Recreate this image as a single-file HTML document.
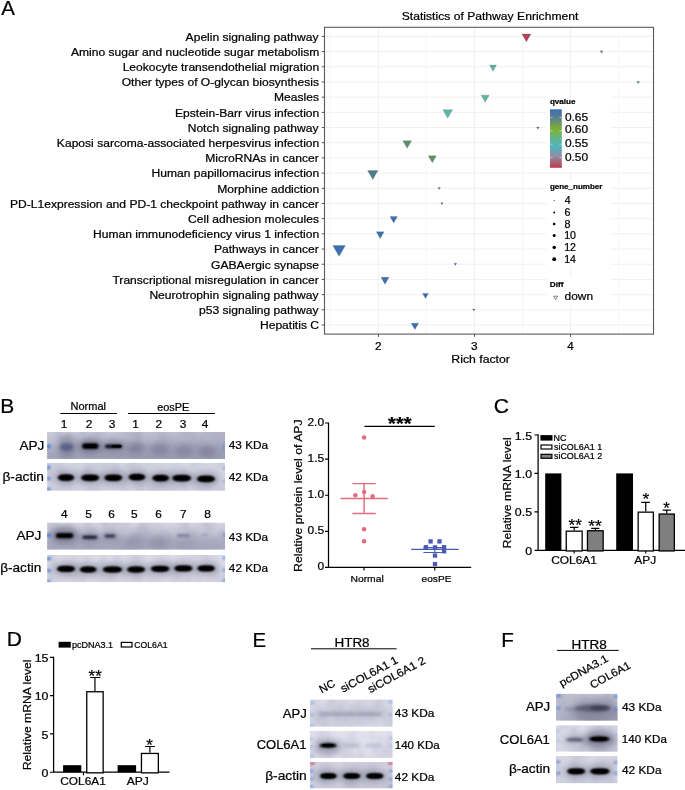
<!DOCTYPE html>
<html><head><meta charset="utf-8"><title>Figure</title>
<style>
html,body{margin:0;padding:0;background:#fff;}
svg{display:block;font-family:"Liberation Sans",Arial,Helvetica,sans-serif;}
text{stroke:#000;stroke-width:0.22px;}
</style></head><body>
<svg width="685" height="790" viewBox="0 0 685 790">
<rect width="685" height="790" fill="#fff"/>
<text transform="translate(1.30,15.00) scale(1.023,1)" font-size="20.0" fill="#000">A</text>
<rect x="324.5" y="27.3" width="329.0" height="306.8" fill="#fff"/>
<path d="M324.5 36.40H653.5M324.5 51.59H653.5M324.5 66.78H653.5M324.5 81.97H653.5M324.5 97.16H653.5M324.5 112.35H653.5M324.5 127.54H653.5M324.5 142.73H653.5M324.5 157.92H653.5M324.5 173.11H653.5M324.5 188.30H653.5M324.5 203.49H653.5M324.5 218.68H653.5M324.5 233.87H653.5M324.5 249.06H653.5M324.5 264.25H653.5M324.5 279.44H653.5M324.5 294.63H653.5M324.5 309.82H653.5M324.5 325.01H653.5M378.40 27.3V334.1M474.50 27.3V334.1M570.60 27.3V334.1" stroke="#eeeeee" stroke-width="0.9" fill="none"/>
<path d="M330.35 27.3V334.1M426.45 27.3V334.1M522.55 27.3V334.1M618.65 27.3V334.1" stroke="#f5f5f5" stroke-width="0.7" fill="none"/>
<path d="M521.90 34.00H530.90L526.40 41.80Z" fill="#b8405a" stroke="#4a5a5a" stroke-opacity="0.45" stroke-width="0.5"/>
<path d="M600.25 50.83H602.95L601.60 53.17Z" fill="#3f8c7c" stroke="#4a5a5a" stroke-opacity="0.45" stroke-width="0.5"/>
<path d="M489.50 65.07H496.50L493.00 71.13Z" fill="#5bb5a0" stroke="#4a5a5a" stroke-opacity="0.45" stroke-width="0.5"/>
<path d="M636.85 81.43H639.55L638.20 83.77Z" fill="#3f8c7c" stroke="#4a5a5a" stroke-opacity="0.45" stroke-width="0.5"/>
<path d="M481.20 95.14H489.20L485.20 102.06Z" fill="#5bb5a0" stroke="#4a5a5a" stroke-opacity="0.45" stroke-width="0.5"/>
<path d="M442.90 109.84H452.50L447.70 118.16Z" fill="#5cb8a6" stroke="#4a5a5a" stroke-opacity="0.45" stroke-width="0.5"/>
<path d="M536.65 127.02H539.15L537.90 129.18Z" fill="#44704e" stroke="#4a5a5a" stroke-opacity="0.45" stroke-width="0.5"/>
<path d="M402.85 140.73H411.55L407.20 148.27Z" fill="#5f9168" stroke="#4a5a5a" stroke-opacity="0.45" stroke-width="0.5"/>
<path d="M428.30 155.84H436.30L432.30 162.76Z" fill="#5f9162" stroke="#4a5a5a" stroke-opacity="0.45" stroke-width="0.5"/>
<path d="M367.65 170.54H377.95L372.80 179.46Z" fill="#4f7b8a" stroke="#4a5a5a" stroke-opacity="0.45" stroke-width="0.5"/>
<path d="M438.00 187.46H440.40L439.20 189.54Z" fill="#3060a4" stroke="#4a5a5a" stroke-opacity="0.45" stroke-width="0.5"/>
<path d="M440.80 202.66H443.20L442.00 204.74Z" fill="#3060a4" stroke="#4a5a5a" stroke-opacity="0.45" stroke-width="0.5"/>
<path d="M390.00 216.60H397.40L393.70 223.00Z" fill="#3c6eb0" stroke="#4a5a5a" stroke-opacity="0.45" stroke-width="0.5"/>
<path d="M376.35 231.87H384.05L380.20 238.53Z" fill="#3c6eb0" stroke="#4a5a5a" stroke-opacity="0.45" stroke-width="0.5"/>
<path d="M332.85 245.49H345.35L339.10 256.31Z" fill="#3c6eb0" stroke="#4a5a5a" stroke-opacity="0.45" stroke-width="0.5"/>
<path d="M454.20 263.36H456.60L455.40 265.44Z" fill="#3060a4" stroke="#4a5a5a" stroke-opacity="0.45" stroke-width="0.5"/>
<path d="M381.00 277.34H389.00L385.00 284.26Z" fill="#3c6eb0" stroke="#4a5a5a" stroke-opacity="0.45" stroke-width="0.5"/>
<path d="M422.60 293.39H428.40L425.50 298.41Z" fill="#3c6eb0" stroke="#4a5a5a" stroke-opacity="0.45" stroke-width="0.5"/>
<path d="M472.65 308.90H474.95L473.80 310.90Z" fill="#3060a4" stroke="#4a5a5a" stroke-opacity="0.45" stroke-width="0.5"/>
<path d="M411.20 323.20H418.60L414.90 329.60Z" fill="#3c6eb0" stroke="#4a5a5a" stroke-opacity="0.45" stroke-width="0.5"/>
<rect x="546" y="96" width="64.5" height="76" fill="#fff" opacity="0.92"/>
<rect x="546" y="180" width="64.5" height="86" fill="#fff" opacity="0.92"/>
<rect x="546" y="276" width="64.5" height="32" fill="#fff" opacity="0.92"/>
<rect x="324.5" y="27.3" width="329.0" height="306.8" fill="none" stroke="#595959" stroke-width="1.1"/>
<path d="M321.7 36.40H324.5M321.7 51.59H324.5M321.7 66.78H324.5M321.7 81.97H324.5M321.7 97.16H324.5M321.7 112.35H324.5M321.7 127.54H324.5M321.7 142.73H324.5M321.7 157.92H324.5M321.7 173.11H324.5M321.7 188.30H324.5M321.7 203.49H324.5M321.7 218.68H324.5M321.7 233.87H324.5M321.7 249.06H324.5M321.7 264.25H324.5M321.7 279.44H324.5M321.7 294.63H324.5M321.7 309.82H324.5M321.7 325.01H324.5M378.40 334.1V336.90000000000003M474.50 334.1V336.90000000000003M570.60 334.1V336.90000000000003" stroke="#444" stroke-width="0.9" fill="none"/>
<text transform="translate(185.62,40.70) scale(1.098,1)" font-size="11" fill="#000">Apelin signaling pathway</text>
<text transform="translate(70.94,55.89) scale(1.098,1)" font-size="11" fill="#000">Amino sugar and nucleotide sugar metabolism</text>
<text transform="translate(122.63,71.08) scale(1.098,1)" font-size="11" fill="#000">Leokocyte transendothelial migration</text>
<text transform="translate(121.67,86.27) scale(1.098,1)" font-size="11" fill="#000">Other types of O-glycan biosynthesis</text>
<text transform="translate(274.03,101.46) scale(1.098,1)" font-size="11" fill="#000">Measles</text>
<text transform="translate(174.99,116.65) scale(1.098,1)" font-size="11" fill="#000">Epstein-Barr virus infection</text>
<text transform="translate(187.67,131.84) scale(1.098,1)" font-size="11" fill="#000">Notch signaling pathway</text>
<text transform="translate(56.87,147.03) scale(1.098,1)" font-size="11" fill="#000">Kaposi sarcoma-associated herpesvirus infection</text>
<text transform="translate(205.31,162.22) scale(1.098,1)" font-size="11" fill="#000">MicroRNAs in cancer</text>
<text transform="translate(151.50,177.41) scale(1.098,1)" font-size="11" fill="#000">Human papillomacirus infection</text>
<text transform="translate(217.27,192.60) scale(1.098,1)" font-size="11" fill="#000">Morphine addiction</text>
<text transform="translate(9.95,207.79) scale(1.098,1)" font-size="11" fill="#000">PD-L1expression and PD-1 checkpoint pathway in cancer</text>
<text transform="translate(188.10,222.98) scale(1.098,1)" font-size="11" fill="#000">Cell adhesion molecules</text>
<text transform="translate(93.10,238.17) scale(1.098,1)" font-size="11" fill="#000">Human immunodeficiency virus 1 infection</text>
<text transform="translate(214.00,253.36) scale(1.098,1)" font-size="11" fill="#000">Pathways in cancer</text>
<text transform="translate(210.99,268.55) scale(1.098,1)" font-size="11" fill="#000">GABAergic synapse</text>
<text transform="translate(112.43,283.74) scale(1.098,1)" font-size="11" fill="#000">Transcriptional misregulation in cancer</text>
<text transform="translate(149.39,298.93) scale(1.098,1)" font-size="11" fill="#000">Neurotrophin signaling pathway</text>
<text transform="translate(199.09,314.12) scale(1.098,1)" font-size="11" fill="#000">p53 signaling pathway</text>
<text transform="translate(259.96,329.31) scale(1.098,1)" font-size="11" fill="#000">Hepatitis C</text>
<text transform="translate(401.75,20.20) scale(1.103,1)" font-size="11" fill="#000">Statistics of Pathway Enrichment</text>
<text transform="translate(374.92,350.40) scale(1.150,1)" font-size="10.2" fill="#000">2</text>
<text transform="translate(471.07,350.40) scale(1.150,1)" font-size="10.2" fill="#000">3</text>
<text transform="translate(567.17,350.40) scale(1.150,1)" font-size="10.2" fill="#000">4</text>
<text transform="translate(451.32,363.00) scale(1.116,1)" font-size="11" fill="#000">Rich factor</text>
<defs><linearGradient id="qv" x1="0" y1="0" x2="0" y2="1">
<stop offset="0" stop-color="#3a6db5"/><stop offset="0.17" stop-color="#5d8588"/><stop offset="0.33" stop-color="#7db030"/>
<stop offset="0.5" stop-color="#5fb58a"/><stop offset="0.64" stop-color="#4fb5c0"/><stop offset="0.8" stop-color="#8e8ea4"/><stop offset="1" stop-color="#c2364d"/>
</linearGradient></defs>
<rect x="550" y="109.3" width="11.8" height="58.5" fill="url(#qv)"/>
<path d="M550 117.4h2.4M559.4 117.4h2.4M550 130.8h2.4M559.4 130.8h2.4M550 144.2h2.4M559.4 144.2h2.4M550 157.6h2.4M559.4 157.6h2.4" stroke="#fff" stroke-width="0.6" opacity="0.8"/>
<text transform="translate(549.88,104.30) scale(1.111,1)" font-size="7.3" font-weight="bold" fill="#000">qvalue</text>
<text transform="translate(564.88,120.70) scale(1.163,1)" font-size="10.3" fill="#000">0.65</text>
<text transform="translate(564.88,133.10) scale(1.160,1)" font-size="10.3" fill="#000">0.60</text>
<text transform="translate(564.88,147.40) scale(1.163,1)" font-size="10.3" fill="#000">0.55</text>
<text transform="translate(564.88,161.30) scale(1.160,1)" font-size="10.3" fill="#000">0.50</text>
<text transform="translate(549.88,189.30) scale(1.097,1)" font-size="7.3" font-weight="bold" fill="#000">gene_number</text>
<circle cx="554.2" cy="200.5" r="0.5" fill="#000"/>
<text transform="translate(564.79,204.10) scale(1.030,1)" font-size="10.3" fill="#000">4</text>
<circle cx="554.2" cy="212.5" r="0.95" fill="#000"/>
<text transform="translate(564.47,216.10) scale(1.030,1)" font-size="10.3" fill="#000">6</text>
<circle cx="554.2" cy="224.0" r="1.3" fill="#000"/>
<text transform="translate(564.58,227.60) scale(1.030,1)" font-size="10.3" fill="#000">8</text>
<circle cx="554.2" cy="235.5" r="1.5" fill="#000"/>
<text transform="translate(564.20,239.10) scale(1.030,1)" font-size="10.3" fill="#000">10</text>
<circle cx="554.2" cy="247.4" r="1.7" fill="#000"/>
<text transform="translate(564.20,251.00) scale(1.030,1)" font-size="10.3" fill="#000">12</text>
<circle cx="554.2" cy="259.2" r="1.9" fill="#000"/>
<text transform="translate(564.20,262.80) scale(1.030,1)" font-size="10.3" fill="#000">14</text>
<text transform="translate(549.77,286.50) scale(1.118,1)" font-size="7.3" font-weight="bold" fill="#000">Diff</text>
<path d="M553.6 296.2h4l-2 3.4z" fill="#fff" stroke="#333" stroke-width="0.6"/>
<text transform="translate(564.52,300.30) scale(1.084,1)" font-size="11" fill="#000">down</text>
<defs>
<filter id="f0" x="-20%" y="-50%" width="140%" height="200%"><feGaussianBlur stdDeviation="0.65"/></filter>
<filter id="f1" x="-30%" y="-60%" width="160%" height="220%"><feGaussianBlur stdDeviation="1.15"/></filter>
<filter id="f2" x="-30%" y="-80%" width="160%" height="260%"><feGaussianBlur stdDeviation="1.6"/></filter>
<filter id="f3" x="-40%" y="-100%" width="180%" height="300%"><feGaussianBlur stdDeviation="3"/></filter>
<filter id="f5" x="-40%" y="-100%" width="180%" height="300%"><feGaussianBlur stdDeviation="5"/></filter>
<filter id="nz" x="0" y="0" width="100%" height="100%"><feTurbulence type="fractalNoise" baseFrequency="0.07 0.05" numOctaves="2" seed="7" result="t"/><feColorMatrix in="t" type="matrix" values="0 0 0 0 0.36  0 0 0 0 0.36  0 0 0 0 0.48  0 0 0 1.6 -0.55"/></filter>
<linearGradient id="hdark" x1="0" y1="0" x2="1" y2="0"><stop offset="0" stop-color="#77779a" stop-opacity="0"/><stop offset="0.45" stop-color="#77779a" stop-opacity="0.16"/><stop offset="1" stop-color="#77779a" stop-opacity="0.24"/></linearGradient>
</defs>
<text transform="translate(0.23,413.20) scale(1.021,1)" font-size="20.5" fill="#000">B</text>
<text transform="translate(70.47,410.30) scale(1.102,1)" font-size="10.0" fill="#000">Normal</text>
<path d="M60.3 413.5H117M128 413.5H215" stroke="#000" stroke-width="1.05"/>
<text transform="translate(157.16,410.50) scale(1.089,1)" font-size="10.0" fill="#000">eosPE</text>
<text transform="translate(60.73,427.50) scale(1.050,1)" font-size="11.3" fill="#000">1</text>
<text transform="translate(85.68,427.50) scale(1.050,1)" font-size="11.3" fill="#000">2</text>
<text transform="translate(108.74,427.50) scale(1.050,1)" font-size="11.3" fill="#000">3</text>
<text transform="translate(132.33,427.50) scale(1.050,1)" font-size="11.3" fill="#000">1</text>
<text transform="translate(155.58,427.50) scale(1.050,1)" font-size="11.3" fill="#000">2</text>
<text transform="translate(179.74,427.50) scale(1.050,1)" font-size="11.3" fill="#000">3</text>
<text transform="translate(201.84,427.50) scale(1.050,1)" font-size="11.3" fill="#000">4</text>
<text transform="translate(60.94,518.10) scale(1.050,1)" font-size="11.3" fill="#000">4</text>
<text transform="translate(85.21,518.10) scale(1.050,1)" font-size="11.3" fill="#000">5</text>
<text transform="translate(108.15,518.10) scale(1.050,1)" font-size="11.3" fill="#000">6</text>
<text transform="translate(131.01,518.10) scale(1.050,1)" font-size="11.3" fill="#000">5</text>
<text transform="translate(155.15,518.10) scale(1.050,1)" font-size="11.3" fill="#000">6</text>
<text transform="translate(180.08,518.10) scale(1.050,1)" font-size="11.3" fill="#000">7</text>
<text transform="translate(204.21,518.10) scale(1.050,1)" font-size="11.3" fill="#000">8</text>
<text transform="translate(19.40,449.90) scale(1.088,1)" font-size="12.5" fill="#000">APJ</text>
<text transform="translate(2.40,480.50) scale(1.103,1)" font-size="12.5" fill="#000">β-actin</text>
<text transform="translate(16.40,539.90) scale(1.092,1)" font-size="12.5" fill="#000">APJ</text>
<text transform="translate(0.22,572.30) scale(1.089,1)" font-size="12.5" fill="#000">β-actin</text>
<text transform="translate(228.76,449.30) scale(1.135,1)" font-size="10.4" fill="#000">43 KDa</text>
<text transform="translate(228.76,480.60) scale(1.135,1)" font-size="10.4" fill="#000">42 KDa</text>
<text transform="translate(228.87,540.50) scale(1.130,1)" font-size="10.4" fill="#000">43 KDa</text>
<text transform="translate(228.87,572.30) scale(1.130,1)" font-size="10.4" fill="#000">42 KDa</text>
<defs><linearGradient id="bg1" x1="0" y1="0" x2="0" y2="1"><stop offset="0" stop-color="#d2d2e0"/><stop offset="1" stop-color="#a6a6bc"/></linearGradient><clipPath id="bc1"><rect x="47.1" y="431.9" width="177.9" height="27.0"/></clipPath></defs>
<g clip-path="url(#bc1)"><rect x="47.1" y="431.9" width="177.9" height="27.0" fill="url(#bg1)"/>
<rect x="47" y="431" width="179" height="29" fill="url(#hdark)"/>
<rect x="47.1" y="431.9" width="177.9" height="27.0" filter="url(#nz)" opacity="0.6"/>
<ellipse cx="150" cy="452" rx="115.0" ry="8.0" fill="#8c8ca6" opacity="0.35" filter="url(#f5)"/>
<ellipse cx="66.7" cy="447" rx="7.0" ry="4.0" fill="#3e4c80" opacity="0.7" filter="url(#f2)"/>
<ellipse cx="66.5" cy="446" rx="9.0" ry="12.0" fill="#585878" opacity="0.38" filter="url(#f3)"/>
<ellipse cx="90.3" cy="446.1" rx="13.0" ry="7.5" fill="#50506a" opacity="0.5" filter="url(#f3)"/>
<rect x="82.05" y="443.20" width="16.5" height="5.8" rx="2.90" fill="#000" opacity="1" filter="url(#f1)"/>
<rect x="84.30" y="444.30" width="12" height="3.6" rx="1.80" fill="#000" opacity="1" filter="url(#f0)"/>
<ellipse cx="113.8" cy="446.6" rx="12.5" ry="6.0" fill="#50506a" opacity="0.38" filter="url(#f3)"/>
<rect x="105.10" y="444.60" width="17" height="3.6" rx="1.80" fill="#05050c" opacity="0.9" filter="url(#f1)"/>
<rect x="111.50" y="444.80" width="10" height="3.0" rx="1.50" fill="#000" opacity="0.9" filter="url(#f0)"/>
<ellipse cx="135.8" cy="448" rx="9.0" ry="5.5" fill="#5e5e80" opacity="0.5" filter="url(#f3)"/>
<ellipse cx="160" cy="449" rx="10.0" ry="5.5" fill="#5e5e80" opacity="0.42" filter="url(#f3)"/>
<ellipse cx="184" cy="450" rx="10.0" ry="5.5" fill="#5e5e80" opacity="0.36" filter="url(#f3)"/>
<ellipse cx="207" cy="451" rx="9.0" ry="5.5" fill="#5e5e80" opacity="0.4" filter="url(#f3)"/>
<ellipse cx="48.8" cy="446.4" rx="2.3" ry="2.1" fill="#3f7ad8" opacity="0.9" filter="url(#f1)"/>
<ellipse cx="224.4" cy="447" rx="1.5" ry="4.0" fill="#5f8fd8" opacity="0.7" filter="url(#f1)"/>
</g>
<defs><linearGradient id="bg2" x1="0" y1="0" x2="0" y2="1"><stop offset="0" stop-color="#d5d5e3"/><stop offset="1" stop-color="#cfcfde"/></linearGradient><clipPath id="bc2"><rect x="47.1" y="462.8" width="177.9" height="28.0"/></clipPath></defs>
<g clip-path="url(#bc2)"><rect x="47.1" y="462.8" width="177.9" height="28.0" fill="url(#bg2)"/>
<rect x="47.1" y="462.8" width="177.9" height="28.0" filter="url(#nz)" opacity="0.35"/>
<ellipse cx="66.0" cy="477.6" rx="11.9" ry="7.0" fill="#55556e" opacity="0.38" filter="url(#f3)"/>
<ellipse cx="90.2" cy="477.8" rx="12.7" ry="7.0" fill="#55556e" opacity="0.38" filter="url(#f3)"/>
<ellipse cx="113.3" cy="477.8" rx="12.6" ry="7.0" fill="#55556e" opacity="0.38" filter="url(#f3)"/>
<ellipse cx="136.9" cy="477.1" rx="12.1" ry="7.0" fill="#55556e" opacity="0.38" filter="url(#f3)"/>
<ellipse cx="160.7" cy="478.1" rx="12.1" ry="7.0" fill="#55556e" opacity="0.38" filter="url(#f3)"/>
<ellipse cx="181.7" cy="478.1" rx="13.2" ry="7.0" fill="#55556e" opacity="0.38" filter="url(#f3)"/>
<ellipse cx="206.0" cy="478.90000000000003" rx="12.7" ry="7.0" fill="#55556e" opacity="0.38" filter="url(#f3)"/>
<ellipse cx="66.0" cy="477.6" rx="8.4" ry="3.1" fill="#000" opacity="1" filter="url(#f1)"/>
<rect x="59.35" y="475.30" width="13.3" height="4.6" rx="2.30" fill="#000" opacity="1" filter="url(#f1)"/>
<rect x="60.85" y="475.90" width="10.3" height="3.4" rx="1.70" fill="#000" opacity="1" filter="url(#f0)"/>
<ellipse cx="90.2" cy="477.8" rx="9.2" ry="3.1" fill="#000" opacity="1" filter="url(#f1)"/>
<rect x="82.75" y="475.50" width="14.899999999999999" height="4.6" rx="2.30" fill="#000" opacity="1" filter="url(#f1)"/>
<rect x="84.25" y="476.10" width="11.899999999999999" height="3.4" rx="1.70" fill="#000" opacity="1" filter="url(#f0)"/>
<ellipse cx="113.3" cy="477.8" rx="9.1" ry="3.1" fill="#000" opacity="1" filter="url(#f1)"/>
<rect x="105.95" y="475.50" width="14.7" height="4.6" rx="2.30" fill="#000" opacity="1" filter="url(#f1)"/>
<rect x="107.45" y="476.10" width="11.7" height="3.4" rx="1.70" fill="#000" opacity="1" filter="url(#f0)"/>
<ellipse cx="136.9" cy="477.1" rx="8.6" ry="3.1" fill="#000" opacity="1" filter="url(#f1)"/>
<rect x="130.05" y="474.80" width="13.7" height="4.6" rx="2.30" fill="#000" opacity="1" filter="url(#f1)"/>
<rect x="131.55" y="475.40" width="10.7" height="3.4" rx="1.70" fill="#000" opacity="1" filter="url(#f0)"/>
<ellipse cx="160.7" cy="478.1" rx="8.6" ry="3.1" fill="#000" opacity="1" filter="url(#f1)"/>
<rect x="153.85" y="475.80" width="13.7" height="4.6" rx="2.30" fill="#000" opacity="1" filter="url(#f1)"/>
<rect x="155.35" y="476.40" width="10.7" height="3.4" rx="1.70" fill="#000" opacity="1" filter="url(#f0)"/>
<ellipse cx="181.7" cy="478.1" rx="9.7" ry="3.1" fill="#000" opacity="1" filter="url(#f1)"/>
<rect x="173.75" y="475.80" width="15.899999999999999" height="4.6" rx="2.30" fill="#000" opacity="1" filter="url(#f1)"/>
<rect x="175.25" y="476.40" width="12.899999999999999" height="3.4" rx="1.70" fill="#000" opacity="1" filter="url(#f0)"/>
<ellipse cx="206.0" cy="478.90000000000003" rx="9.2" ry="3.1" fill="#000" opacity="1" filter="url(#f1)"/>
<rect x="198.55" y="476.60" width="14.899999999999999" height="4.6" rx="2.30" fill="#000" opacity="1" filter="url(#f1)"/>
<rect x="200.05" y="477.20" width="11.899999999999999" height="3.4" rx="1.70" fill="#000" opacity="1" filter="url(#f0)"/>
<ellipse cx="48.6" cy="467.4" rx="2.1" ry="1.6" fill="#3f7ad8" opacity="0.85" filter="url(#f1)"/>
<ellipse cx="48.6" cy="478.6" rx="2.1" ry="1.6" fill="#3f7ad8" opacity="0.85" filter="url(#f1)"/>
<ellipse cx="48.4" cy="489.3" rx="2.1" ry="1.5" fill="#3f7ad8" opacity="0.85" filter="url(#f1)"/>
<ellipse cx="224.2" cy="468.5" rx="1.5" ry="1.5" fill="#5f9fe8" opacity="0.8" filter="url(#f1)"/>
<ellipse cx="224.2" cy="481" rx="1.5" ry="1.5" fill="#5f9fe8" opacity="0.8" filter="url(#f1)"/>
</g>
<defs><linearGradient id="bg3" x1="0" y1="0" x2="0" y2="1"><stop offset="0" stop-color="#d4d4e2"/><stop offset="1" stop-color="#acacc2"/></linearGradient><clipPath id="bc3"><rect x="47.1" y="522.6" width="178" height="27.1"/></clipPath></defs>
<g clip-path="url(#bc3)"><rect x="47.1" y="522.6" width="178" height="27.1" fill="url(#bg3)"/>
<rect x="47.1" y="522.6" width="178" height="27.1" filter="url(#nz)" opacity="0.55"/>
<ellipse cx="140" cy="543" rx="115.0" ry="7.0" fill="#8c8ca6" opacity="0.3" filter="url(#f5)"/>
<ellipse cx="135" cy="541" rx="10.0" ry="7.0" fill="#70708e" opacity="0.32" filter="url(#f3)"/>
<ellipse cx="159" cy="542" rx="10.0" ry="7.0" fill="#70708e" opacity="0.32" filter="url(#f3)"/>
<ellipse cx="183" cy="543" rx="10.0" ry="5.0" fill="#70708e" opacity="0.22" filter="url(#f3)"/>
<ellipse cx="64.6" cy="535" rx="14.0" ry="8.5" fill="#50506a" opacity="0.55" filter="url(#f3)"/>
<rect x="55.85" y="533.00" width="17.5" height="5.2" rx="2.60" fill="#000" opacity="1" filter="url(#f1)"/>
<rect x="58.60" y="534.00" width="12" height="3.2" rx="1.60" fill="#000" opacity="1" filter="url(#f0)"/>
<ellipse cx="89.8" cy="537.5" rx="11.0" ry="5.0" fill="#50506a" opacity="0.35" filter="url(#f3)"/>
<rect x="82.30" y="535.50" width="15" height="3.4" rx="1.70" fill="#10102a" opacity="0.85" filter="url(#f1)"/>
<ellipse cx="110.6" cy="536.5" rx="9.0" ry="5.0" fill="#50506a" opacity="0.3" filter="url(#f3)"/>
<rect x="104.50" y="534.30" width="11" height="3.4" rx="1.70" fill="#1c1c38" opacity="0.75" filter="url(#f1)"/>
<rect x="176.90" y="533.90" width="13" height="3.4" rx="1.70" fill="#484868" opacity="0.42" filter="url(#f1)"/>
<rect x="200.50" y="533.40" width="8" height="2.6" rx="1.30" fill="#585878" opacity="0.25" filter="url(#f1)"/>
<ellipse cx="48.8" cy="535.3" rx="2.25" ry="2.0" fill="#3f7ad8" opacity="0.95" filter="url(#f1)"/>
<ellipse cx="224.4" cy="535" rx="1.5" ry="2.0" fill="#4f8fe0" opacity="0.8" filter="url(#f1)"/>
</g>
<defs><linearGradient id="bg4" x1="0" y1="0" x2="0" y2="1"><stop offset="0" stop-color="#dcdce8"/><stop offset="1" stop-color="#d6d6e4"/></linearGradient><clipPath id="bc4"><rect x="47.1" y="555.0" width="178" height="27.2"/></clipPath></defs>
<g clip-path="url(#bc4)"><rect x="47.1" y="555.0" width="178" height="27.2" fill="url(#bg4)"/>
<rect x="47.1" y="555.0" width="178" height="27.2" filter="url(#nz)" opacity="0.35"/>
<ellipse cx="66.0" cy="568.9000000000001" rx="12.75" ry="6.8" fill="#55556e" opacity="0.38" filter="url(#f3)"/>
<ellipse cx="88.2" cy="569.5" rx="12.1" ry="6.8" fill="#55556e" opacity="0.38" filter="url(#f3)"/>
<ellipse cx="112.5" cy="569.5" rx="13.45" ry="6.8" fill="#55556e" opacity="0.38" filter="url(#f3)"/>
<ellipse cx="136.1" cy="569.5" rx="12.75" ry="6.8" fill="#55556e" opacity="0.38" filter="url(#f3)"/>
<ellipse cx="160.1" cy="568.8000000000001" rx="13.05" ry="6.8" fill="#55556e" opacity="0.38" filter="url(#f3)"/>
<ellipse cx="183.4" cy="568.4000000000001" rx="12.8" ry="6.8" fill="#55556e" opacity="0.38" filter="url(#f3)"/>
<ellipse cx="206.1" cy="568.4000000000001" rx="12.5" ry="6.8" fill="#55556e" opacity="0.38" filter="url(#f3)"/>
<ellipse cx="66.0" cy="568.9000000000001" rx="9.25" ry="2.9" fill="#000" opacity="1" filter="url(#f1)"/>
<rect x="58.50" y="566.80" width="15.0" height="4.199999999999999" rx="2.10" fill="#000" opacity="1" filter="url(#f1)"/>
<rect x="60.00" y="567.40" width="12.0" height="2.9999999999999996" rx="1.50" fill="#000" opacity="1" filter="url(#f0)"/>
<ellipse cx="88.2" cy="569.5" rx="8.6" ry="2.9" fill="#000" opacity="1" filter="url(#f1)"/>
<rect x="81.35" y="567.40" width="13.7" height="4.199999999999999" rx="2.10" fill="#000" opacity="1" filter="url(#f1)"/>
<rect x="82.85" y="568.00" width="10.7" height="2.9999999999999996" rx="1.50" fill="#000" opacity="1" filter="url(#f0)"/>
<ellipse cx="112.5" cy="569.5" rx="9.95" ry="2.9" fill="#000" opacity="1" filter="url(#f1)"/>
<rect x="104.30" y="567.40" width="16.4" height="4.199999999999999" rx="2.10" fill="#000" opacity="1" filter="url(#f1)"/>
<rect x="105.80" y="568.00" width="13.399999999999999" height="2.9999999999999996" rx="1.50" fill="#000" opacity="1" filter="url(#f0)"/>
<ellipse cx="136.1" cy="569.5" rx="9.25" ry="2.9" fill="#000" opacity="1" filter="url(#f1)"/>
<rect x="128.60" y="567.40" width="15.0" height="4.199999999999999" rx="2.10" fill="#000" opacity="1" filter="url(#f1)"/>
<rect x="130.10" y="568.00" width="12.0" height="2.9999999999999996" rx="1.50" fill="#000" opacity="1" filter="url(#f0)"/>
<ellipse cx="160.1" cy="568.8000000000001" rx="9.55" ry="2.9" fill="#000" opacity="1" filter="url(#f1)"/>
<rect x="152.30" y="566.70" width="15.600000000000001" height="4.199999999999999" rx="2.10" fill="#000" opacity="1" filter="url(#f1)"/>
<rect x="153.80" y="567.30" width="12.600000000000001" height="2.9999999999999996" rx="1.50" fill="#000" opacity="1" filter="url(#f0)"/>
<ellipse cx="183.4" cy="568.4000000000001" rx="9.3" ry="2.9" fill="#000" opacity="1" filter="url(#f1)"/>
<rect x="175.85" y="566.30" width="15.100000000000001" height="4.199999999999999" rx="2.10" fill="#000" opacity="1" filter="url(#f1)"/>
<rect x="177.35" y="566.90" width="12.100000000000001" height="2.9999999999999996" rx="1.50" fill="#000" opacity="1" filter="url(#f0)"/>
<ellipse cx="206.1" cy="568.4000000000001" rx="9.0" ry="2.9" fill="#000" opacity="1" filter="url(#f1)"/>
<rect x="198.85" y="566.30" width="14.5" height="4.199999999999999" rx="2.10" fill="#000" opacity="1" filter="url(#f1)"/>
<rect x="200.35" y="566.90" width="11.5" height="2.9999999999999996" rx="1.50" fill="#000" opacity="1" filter="url(#f0)"/>
<ellipse cx="48.8" cy="558.5" rx="2.25" ry="1.5" fill="#3f7ad8" opacity="0.9" filter="url(#f1)"/>
<ellipse cx="48.8" cy="570.5" rx="2.25" ry="1.5" fill="#3f7ad8" opacity="0.9" filter="url(#f1)"/>
<ellipse cx="48.5" cy="581.5" rx="2.25" ry="1.3" fill="#3f7ad8" opacity="0.85" filter="url(#f1)"/>
<ellipse cx="224.2" cy="558" rx="1.5" ry="1.75" fill="#4f8fe8" opacity="0.9" filter="url(#f1)"/>
<ellipse cx="224.2" cy="570" rx="1.5" ry="1.75" fill="#4f8fe8" opacity="0.9" filter="url(#f1)"/>
<ellipse cx="224.2" cy="580.5" rx="1.5" ry="1.5" fill="#4f8fe8" opacity="0.9" filter="url(#f1)"/>
</g>
<path d="M328.5 422.4V567.4H471.2" stroke="#000" stroke-width="1.25" fill="none"/>
<path d="M325 567.40H328.5M325 531.30H328.5M325 495.20H328.5M325 459.10H328.5M325 423.00H328.5M364 567.4V570.6M434.8 567.4V570.6" stroke="#000" stroke-width="1.15" fill="none"/>
<text transform="translate(307.46,426.00) scale(1.120,1)" font-size="10.7" fill="#000">2.0</text>
<text transform="translate(307.52,462.10) scale(1.120,1)" font-size="10.7" fill="#000">1.5</text>
<text transform="translate(307.46,498.20) scale(1.120,1)" font-size="10.7" fill="#000">1.0</text>
<text transform="translate(307.52,534.30) scale(1.120,1)" font-size="10.7" fill="#000">0.5</text>
<text transform="translate(317.47,570.40) scale(1.120,1)" font-size="10.7" fill="#000">0</text>
<text transform="translate(350.47,581.60) scale(1.054,1)" font-size="9.8" fill="#000">Normal</text>
<text transform="translate(421.60,581.60) scale(1.033,1)" font-size="9.8" fill="#000">eosPE</text>
<text transform="translate(301.80,571.88) rotate(-90) scale(1.040,1)" font-size="11.8" fill="#000">Relative protein level of APJ</text>
<path d="M340.5 498.5H387.8M364.1 483.6V513.4M352.4 483.6H375.8M352.4 513.4H375.8" stroke="#e26c7d" stroke-width="1.45" fill="none"/>
<circle cx="364.1" cy="437.5" r="2.25" fill="#e26c7d"/>
<circle cx="355.4" cy="495.3" r="2.25" fill="#e26c7d"/>
<circle cx="364.1" cy="492.1" r="2.25" fill="#e26c7d"/>
<circle cx="372.6" cy="496.2" r="2.25" fill="#e26c7d"/>
<circle cx="364.1" cy="529.2" r="2.25" fill="#e26c7d"/>
<circle cx="364.1" cy="541.2" r="2.25" fill="#e26c7d"/>
<path d="M411.1 549.4H458.7M423.4 547.6H446.1M423.4 552.5H446.1M434.8 547.6V552.5" stroke="#4a5bb5" stroke-width="1.2" fill="none"/>
<rect x="428.45000000000005" y="539.25" width="4.3" height="4.3" fill="#4a5bb5"/>
<rect x="437.35" y="539.25" width="4.3" height="4.3" fill="#4a5bb5"/>
<rect x="423.75" y="545.0500000000001" width="4.3" height="4.3" fill="#4a5bb5"/>
<rect x="432.85" y="545.25" width="4.3" height="4.3" fill="#4a5bb5"/>
<rect x="441.95000000000005" y="545.0500000000001" width="4.3" height="4.3" fill="#4a5bb5"/>
<rect x="441.95000000000005" y="549.15" width="4.3" height="4.3" fill="#4a5bb5"/>
<rect x="432.85" y="553.45" width="4.3" height="4.3" fill="#4a5bb5"/>
<rect x="432.85" y="561.95" width="4.3" height="4.3" fill="#4a5bb5"/>
<path d="M364.4 426.35H434.8" stroke="#000" stroke-width="1.35"/>
<text transform="translate(388.10,429.70) scale(1.111,1)" font-size="18" font-weight="bold" fill="#000">***</text>
<text transform="translate(493.74,413.00) scale(1.029,1)" font-size="20.5" fill="#000">C</text>
<path d="M538.1 434.3V550.3H685" stroke="#000" stroke-width="1.25" fill="none"/>
<path d="M534.5 550.30H538.1M534.5 511.85H538.1M534.5 473.40H538.1M534.5 434.95H538.1M574.2 550.3V553.4M645.7 550.3V553.4" stroke="#000" stroke-width="1.15" fill="none"/>
<text transform="translate(514.87,439.55) scale(1.180,1)" font-size="10.5" fill="#000">1.5</text>
<text transform="translate(514.81,478.00) scale(1.180,1)" font-size="10.5" fill="#000">1.0</text>
<text transform="translate(514.87,516.45) scale(1.180,1)" font-size="10.5" fill="#000">0.5</text>
<text transform="translate(525.16,554.90) scale(1.180,1)" font-size="10.5" fill="#000">0</text>
<rect x="545.2" y="473.4" width="16.20" height="76.90" fill="#000"/>
<rect x="566.25" y="531.15" width="15.90" height="19.80" fill="#fff" stroke="#000" stroke-width="1.3"/>
<path d="M574.20 530.5V527.4M570.0 527.4H578.4" stroke="#000" stroke-width="1.2" fill="none"/>
<rect x="587.45" y="530.75" width="15.70" height="20.20" fill="#7f7f7f" stroke="#000" stroke-width="1.3"/>
<path d="M595.30 530.1V528.3M591.2 528.3H599.4" stroke="#000" stroke-width="1.2" fill="none"/>
<rect x="616.2" y="473.4" width="16.80" height="76.90" fill="#000"/>
<rect x="638.15" y="512.15" width="15.20" height="38.80" fill="#fff" stroke="#000" stroke-width="1.3"/>
<path d="M645.75 511.5V502.3M641.2 502.3H649.9" stroke="#000" stroke-width="1.2" fill="none"/>
<rect x="659.15" y="514.05" width="15.20" height="36.90" fill="#7f7f7f" stroke="#000" stroke-width="1.3"/>
<path d="M666.75 513.4V510.1M662.6 510.1H670.8" stroke="#000" stroke-width="1.2" fill="none"/>
<text transform="translate(551.20,563.70) scale(1.037,1)" font-size="11.5" fill="#000">COL6A1</text>
<text transform="translate(634.30,563.70) scale(1.040,1)" font-size="11.5" fill="#000">APJ</text>
<text transform="translate(510.50,548.38) rotate(-90) scale(1.052,1)" font-size="11.6" fill="#000">Relative mRNA level</text>
<rect x="540.4" y="435.1" width="12.1" height="5.5" fill="#000"/>
<rect x="541.0" y="445.0" width="10.9" height="4.0" fill="#fff" stroke="#000" stroke-width="1.2"/>
<rect x="541.0" y="454.3" width="10.9" height="4.0" fill="#7f7f7f" stroke="#000" stroke-width="1.2"/>
<text transform="translate(553.49,440.50) scale(1.073,1)" font-size="8.3" fill="#000">NC</text>
<text transform="translate(553.98,449.60) scale(1.078,1)" font-size="8.3" fill="#000">siCOL6A1 1</text>
<text transform="translate(553.98,458.50) scale(1.078,1)" font-size="8.3" fill="#000">siCOL6A1 2</text>
<text transform="translate(568.55,530.80) scale(1.026,1)" font-size="16.5" fill="#000">**</text>
<text transform="translate(588.34,531.70) scale(1.051,1)" font-size="16.5" fill="#000">**</text>
<text transform="translate(642.44,505.40) scale(1.061,1)" font-size="16.5" fill="#000">*</text>
<text transform="translate(663.25,513.90) scale(1.010,1)" font-size="16.5" fill="#000">*</text>
<text transform="translate(6.82,646.30) scale(1.025,1)" font-size="20.5" fill="#000">D</text>
<path d="M53.6 656.8V772.2H169.5" stroke="#000" stroke-width="1.25" fill="none"/>
<path d="M50 772.20H53.6M50 733.90H53.6M50 695.60H53.6M50 657.30H53.6M83.5 772.2V775.2" stroke="#000" stroke-width="1.15" fill="none"/>
<text transform="translate(34.74,661.50) scale(1.180,1)" font-size="10.5" fill="#000">15</text>
<text transform="translate(34.68,700.20) scale(1.180,1)" font-size="10.5" fill="#000">10</text>
<text transform="translate(41.62,738.80) scale(1.180,1)" font-size="10.5" fill="#000">5</text>
<text transform="translate(41.56,777.00) scale(1.180,1)" font-size="10.5" fill="#000">0</text>
<rect x="63.1" y="765.2" width="18.20" height="7.00" fill="#000"/>
<rect x="86.75" y="691.75" width="16.40" height="81.10" fill="#fff" stroke="#000" stroke-width="1.3"/>
<path d="M94.95 691.1V677.5M90.2 677.5H100.3" stroke="#000" stroke-width="1.2" fill="none"/>
<rect x="117.6" y="765.2" width="18.50" height="7.00" fill="#000"/>
<rect x="141.45" y="753.45" width="16.90" height="19.40" fill="#fff" stroke="#000" stroke-width="1.3"/>
<path d="M149.90 752.8V746.5M145.0 746.5H155.0" stroke="#000" stroke-width="1.2" fill="none"/>
<text transform="translate(60.31,784.80) scale(1.032,1)" font-size="11.5" fill="#000">COL6A1</text>
<text transform="translate(126.70,784.80) scale(1.049,1)" font-size="11.5" fill="#000">APJ</text>
<text transform="translate(31.40,770.17) rotate(-90) scale(1.048,1)" font-size="11.6" fill="#000">Relative mRNA level</text>
<rect x="58.6" y="641.8" width="12.2" height="5.8" fill="#000"/>
<rect x="121.3" y="642.4" width="10.7" height="4.6" fill="#fff" stroke="#000" stroke-width="1.2"/>
<text transform="translate(71.96,647.80) scale(1.073,1)" font-size="8.4" fill="#000">pcDNA3.1</text>
<text transform="translate(134.27,647.80) scale(1.035,1)" font-size="8.4" fill="#000">COL6A1</text>
<text transform="translate(88.55,681.75) scale(1.026,1)" font-size="16.5" fill="#000">**</text>
<text transform="translate(146.29,750.50) scale(1.030,1)" font-size="16.5" fill="#000">*</text>
<text transform="translate(252.57,647.10) scale(0.994,1)" font-size="20.5" fill="#000">E</text>
<text transform="translate(334.42,646.90) scale(1.124,1)" font-size="12.0" fill="#000">HTR8</text>
<path d="M311 648.8H396.6" stroke="#000" stroke-width="1"/>
<text transform="translate(321.82,693.43) rotate(-29) scale(1.000,1)" font-size="11.2" fill="#000">NC</text>
<text transform="translate(342.94,692.74) rotate(-28.5) scale(1.054,1)" font-size="11.2" fill="#000">siCOL6A1 1</text>
<text transform="translate(370.14,693.34) rotate(-28.5) scale(1.057,1)" font-size="11.2" fill="#000">siCOL6A1 2</text>
<text transform="translate(282.70,717.70) scale(1.043,1)" font-size="12.6" fill="#000">APJ</text>
<text transform="translate(256.65,749.30) scale(1.083,1)" font-size="12.0" fill="#000">COL6A1</text>
<text transform="translate(265.21,780.20) scale(1.091,1)" font-size="12.6" fill="#000">β-actin</text>
<text transform="translate(394.86,716.90) scale(1.141,1)" font-size="10.4" fill="#000">43 KDa</text>
<text transform="translate(394.73,749.40) scale(1.113,1)" font-size="10.4" fill="#000">140 KDa</text>
<text transform="translate(394.86,780.50) scale(1.141,1)" font-size="10.4" fill="#000">42 KDa</text>
<defs><linearGradient id="bg5" x1="0" y1="0" x2="0" y2="1"><stop offset="0" stop-color="#dadae7"/><stop offset="1" stop-color="#d4d4e3"/></linearGradient><clipPath id="bc5"><rect x="309.9" y="699.4" width="82.8" height="27.4"/></clipPath></defs>
<g clip-path="url(#bc5)"><rect x="309.9" y="699.4" width="82.8" height="27.4" fill="url(#bg5)"/>
<rect x="309.9" y="699.4" width="82.8" height="27.4" filter="url(#nz)" opacity="0.35"/>
<rect x="319.00" y="711.90" width="63" height="4.2" rx="2.10" fill="#8c8ca2" opacity="0.6" filter="url(#f2)"/>
<ellipse cx="350.5" cy="714.5" rx="40.0" ry="7.0" fill="#a0a0b8" opacity="0.25" filter="url(#f3)"/>
<ellipse cx="312.2" cy="703" rx="2.5" ry="1.3" fill="#7fb0ec" opacity="0.85" filter="url(#f1)"/>
<ellipse cx="311.8" cy="714.7" rx="2.2" ry="1.3" fill="#7fb0ec" opacity="0.85" filter="url(#f1)"/>
<ellipse cx="311.8" cy="725.7" rx="2.2" ry="1.2" fill="#7fb0ec" opacity="0.7" filter="url(#f1)"/>
<ellipse cx="390.6" cy="701.8" rx="2.5" ry="1.3" fill="#7fb0ec" opacity="0.85" filter="url(#f1)"/>
<ellipse cx="390.8" cy="714.7" rx="2.2" ry="1.3" fill="#7fb0ec" opacity="0.8" filter="url(#f1)"/>
</g>
<defs><linearGradient id="bg6" x1="0" y1="0" x2="0" y2="1"><stop offset="0" stop-color="#e2e2ef"/><stop offset="1" stop-color="#dcdcea"/></linearGradient><clipPath id="bc6"><rect x="309.9" y="730.8" width="82.8" height="27.2"/></clipPath></defs>
<g clip-path="url(#bc6)"><rect x="309.9" y="730.8" width="82.8" height="27.2" fill="url(#bg6)"/>
<rect x="309.9" y="730.8" width="82.8" height="27.2" filter="url(#nz)" opacity="0.35"/>
<ellipse cx="328" cy="747" rx="13.0" ry="8.0" fill="#50506a" opacity="0.42" filter="url(#f3)"/>
<ellipse cx="328.1" cy="745.4" rx="8.75" ry="2.5" fill="#000" opacity="1" filter="url(#f1)"/>
<rect x="322.35" y="744.10" width="11.5" height="2.6" rx="1.30" fill="#000" opacity="1" filter="url(#f0)"/>
<rect x="343.80" y="743.80" width="16" height="3.6" rx="1.80" fill="#9090aa" opacity="0.36" filter="url(#f2)"/>
<rect x="365.15" y="743.80" width="16.5" height="3.6" rx="1.80" fill="#9090aa" opacity="0.33" filter="url(#f2)"/>
<ellipse cx="311.4" cy="738.8" rx="1.7" ry="1.2" fill="#7fb0ec" opacity="0.7" filter="url(#f1)"/>
<ellipse cx="311.4" cy="746.8" rx="1.7" ry="1.2" fill="#7fb0ec" opacity="0.7" filter="url(#f1)"/>
<ellipse cx="311.4" cy="756.3" rx="1.7" ry="1.2" fill="#7fb0ec" opacity="0.7" filter="url(#f1)"/>
<ellipse cx="391.2" cy="738" rx="1.7" ry="1.2" fill="#7fb0ec" opacity="0.65" filter="url(#f1)"/>
<ellipse cx="391.2" cy="746" rx="1.7" ry="1.2" fill="#7fb0ec" opacity="0.65" filter="url(#f1)"/>
</g>
<defs><linearGradient id="bg7" x1="0" y1="0" x2="0" y2="1"><stop offset="0" stop-color="#d2d2e0"/><stop offset="1" stop-color="#ccccdc"/></linearGradient><clipPath id="bc7"><rect x="309.9" y="761.9" width="82.8" height="26.5"/></clipPath></defs>
<g clip-path="url(#bc7)"><rect x="309.9" y="761.9" width="82.8" height="26.5" fill="url(#bg7)"/>
<rect x="309.9" y="761.9" width="82.8" height="26.5" filter="url(#nz)" opacity="0.35"/>
<ellipse cx="328.4" cy="776.0" rx="12.1" ry="6.7" fill="#55556e" opacity="0.38" filter="url(#f3)"/>
<ellipse cx="351.8" cy="776.0" rx="12.4" ry="6.7" fill="#55556e" opacity="0.38" filter="url(#f3)"/>
<ellipse cx="374.8" cy="776.0" rx="12.5" ry="6.7" fill="#55556e" opacity="0.38" filter="url(#f3)"/>
<ellipse cx="328.4" cy="776.0" rx="8.6" ry="2.8000000000000003" fill="#000" opacity="1" filter="url(#f1)"/>
<rect x="321.55" y="774.00" width="13.7" height="4.0" rx="2.00" fill="#000" opacity="1" filter="url(#f1)"/>
<rect x="323.05" y="774.60" width="10.7" height="2.8000000000000003" rx="1.40" fill="#000" opacity="1" filter="url(#f0)"/>
<ellipse cx="351.8" cy="776.0" rx="8.9" ry="2.8000000000000003" fill="#000" opacity="1" filter="url(#f1)"/>
<rect x="344.65" y="774.00" width="14.3" height="4.0" rx="2.00" fill="#000" opacity="1" filter="url(#f1)"/>
<rect x="346.15" y="774.60" width="11.3" height="2.8000000000000003" rx="1.40" fill="#000" opacity="1" filter="url(#f0)"/>
<ellipse cx="374.8" cy="776.0" rx="9.0" ry="2.8000000000000003" fill="#000" opacity="1" filter="url(#f1)"/>
<rect x="367.55" y="774.00" width="14.5" height="4.0" rx="2.00" fill="#000" opacity="1" filter="url(#f1)"/>
<rect x="369.05" y="774.60" width="11.5" height="2.8000000000000003" rx="1.40" fill="#000" opacity="1" filter="url(#f0)"/>
<ellipse cx="312.2" cy="763.2" rx="2.75" ry="1.3" fill="#dc3c6c" opacity="0.9" filter="url(#f1)"/>
<ellipse cx="390.6" cy="763.2" rx="2.75" ry="1.3" fill="#dc3c6c" opacity="0.9" filter="url(#f1)"/>
<ellipse cx="311.6" cy="771" rx="2.0" ry="1.3" fill="#5a95e6" opacity="0.85" filter="url(#f1)"/>
<ellipse cx="311.6" cy="779" rx="2.0" ry="1.3" fill="#5a95e6" opacity="0.85" filter="url(#f1)"/>
<ellipse cx="311.6" cy="786.7" rx="2.0" ry="1.2" fill="#5a95e6" opacity="0.85" filter="url(#f1)"/>
<ellipse cx="391" cy="771" rx="2.0" ry="1.3" fill="#5a95e6" opacity="0.85" filter="url(#f1)"/>
<ellipse cx="391" cy="779" rx="2.0" ry="1.3" fill="#5a95e6" opacity="0.85" filter="url(#f1)"/>
<ellipse cx="391" cy="786.5" rx="2.0" ry="1.2" fill="#5a95e6" opacity="0.8" filter="url(#f1)"/>
</g>
<text transform="translate(501.35,647.10) scale(1.005,1)" font-size="20.5" fill="#000">F</text>
<text transform="translate(571.42,648.80) scale(1.128,1)" font-size="12.0" fill="#000">HTR8</text>
<path d="M557.1 650.4H618.7" stroke="#000" stroke-width="1"/>
<text transform="translate(561.68,687.05) rotate(-29) scale(1.079,1)" font-size="11.0" fill="#000">pcDNA3.1</text>
<text transform="translate(592.49,688.88) rotate(-28.5) scale(1.050,1)" font-size="11.0" fill="#000">COL6A1</text>
<text transform="translate(526.00,710.60) scale(1.048,1)" font-size="12.6" fill="#000">APJ</text>
<text transform="translate(499.85,743.80) scale(1.087,1)" font-size="12.0" fill="#000">COL6A1</text>
<text transform="translate(508.92,773.30) scale(1.080,1)" font-size="12.6" fill="#000">β-actin</text>
<text transform="translate(621.96,710.70) scale(1.141,1)" font-size="10.4" fill="#000">43 KDa</text>
<text transform="translate(621.83,742.90) scale(1.115,1)" font-size="10.4" fill="#000">140 KDa</text>
<text transform="translate(621.96,774.10) scale(1.141,1)" font-size="10.4" fill="#000">42 KDa</text>
<defs><linearGradient id="bg8" x1="0" y1="0" x2="0" y2="1"><stop offset="0" stop-color="#c6c6d6"/><stop offset="1" stop-color="#b2b2c8"/></linearGradient><clipPath id="bc8"><rect x="556.0" y="693.8" width="61.6" height="26.9"/></clipPath></defs>
<g clip-path="url(#bc8)"><rect x="556.0" y="693.8" width="61.6" height="26.9" fill="url(#bg8)"/>
<rect x="556.0" y="693.8" width="61.6" height="26.9" filter="url(#nz)" opacity="0.6"/>
<ellipse cx="596" cy="712" rx="25.0" ry="13.0" fill="#585872" opacity="0.45" filter="url(#f5)"/>
<ellipse cx="593" cy="708.2" rx="18.0" ry="3.5" fill="#404058" opacity="0.6" filter="url(#f2)"/>
<ellipse cx="599.5" cy="708.0" rx="10.0" ry="2.5" fill="#2c2c44" opacity="0.65" filter="url(#f2)"/>
<ellipse cx="572" cy="709" rx="8.0" ry="2.5" fill="#62627c" opacity="0.35" filter="url(#f2)"/>
<ellipse cx="558.6" cy="695.8" rx="3.0" ry="1.4" fill="#4f86d8" opacity="0.85" filter="url(#f1)"/>
<ellipse cx="558.2" cy="708" rx="2.3" ry="1.5" fill="#4f86d8" opacity="0.85" filter="url(#f1)"/>
<ellipse cx="615.6" cy="696.4" rx="2.2" ry="1.5" fill="#4f86d8" opacity="0.85" filter="url(#f1)"/>
<ellipse cx="615.6" cy="709.3" rx="2.2" ry="1.5" fill="#4f86d8" opacity="0.8" filter="url(#f1)"/>
</g>
<defs><linearGradient id="bg9" x1="0" y1="0" x2="0" y2="1"><stop offset="0" stop-color="#dedeeb"/><stop offset="1" stop-color="#d6d6e5"/></linearGradient><clipPath id="bc9"><rect x="556.0" y="725.2" width="61.7" height="26.5"/></clipPath></defs>
<g clip-path="url(#bc9)"><rect x="556.0" y="725.2" width="61.7" height="26.5" fill="url(#bg9)"/>
<rect x="556.0" y="725.2" width="61.7" height="26.5" filter="url(#nz)" opacity="0.35"/>
<ellipse cx="601" cy="742" rx="15.0" ry="17.0" fill="#8888a4" opacity="0.4" filter="url(#f5)"/>
<ellipse cx="574.7" cy="739.7" rx="13.0" ry="5.5" fill="#707088" opacity="0.3" filter="url(#f3)"/>
<ellipse cx="574.7" cy="739.7" rx="9.0" ry="2.1" fill="#5a5a72" opacity="0.85" filter="url(#f1)"/>
<ellipse cx="599.3" cy="739.4" rx="16.0" ry="7.5" fill="#50506a" opacity="0.5" filter="url(#f3)"/>
<ellipse cx="599.3" cy="739.0" rx="10.5" ry="2.8" fill="#000" opacity="1" filter="url(#f1)"/>
<rect x="592.05" y="737.60" width="14.5" height="2.8" rx="1.40" fill="#000" opacity="1" filter="url(#f0)"/>
<ellipse cx="557.4" cy="731" rx="1.5" ry="1.2" fill="#7fb0ec" opacity="0.6" filter="url(#f1)"/>
<ellipse cx="557.4" cy="741" rx="1.5" ry="1.2" fill="#7fb0ec" opacity="0.6" filter="url(#f1)"/>
<ellipse cx="616.4" cy="735" rx="1.5" ry="1.2" fill="#7fb0ec" opacity="0.6" filter="url(#f1)"/>
</g>
<defs><linearGradient id="bg10" x1="0" y1="0" x2="0" y2="1"><stop offset="0" stop-color="#d6d6e4"/><stop offset="1" stop-color="#d0d0e0"/></linearGradient><clipPath id="bc10"><rect x="556.0" y="756.1" width="61.6" height="27.2"/></clipPath></defs>
<g clip-path="url(#bc10)"><rect x="556.0" y="756.1" width="61.6" height="27.2" fill="url(#bg10)"/>
<rect x="556.0" y="756.1" width="61.6" height="27.2" filter="url(#nz)" opacity="0.35"/>
<ellipse cx="576.2" cy="771.3" rx="12.8" ry="6.8" fill="#55556e" opacity="0.38" filter="url(#f3)"/>
<ellipse cx="599.9" cy="771.3" rx="13.5" ry="6.8" fill="#55556e" opacity="0.38" filter="url(#f3)"/>
<ellipse cx="576.2" cy="771.3" rx="9.3" ry="2.9" fill="#000" opacity="1" filter="url(#f1)"/>
<rect x="568.65" y="769.20" width="15.100000000000001" height="4.199999999999999" rx="2.10" fill="#000" opacity="1" filter="url(#f1)"/>
<rect x="570.15" y="769.80" width="12.100000000000001" height="2.9999999999999996" rx="1.50" fill="#000" opacity="1" filter="url(#f0)"/>
<ellipse cx="599.9" cy="771.3" rx="10.0" ry="2.9" fill="#000" opacity="1" filter="url(#f1)"/>
<rect x="591.65" y="769.20" width="16.5" height="4.199999999999999" rx="2.10" fill="#000" opacity="1" filter="url(#f1)"/>
<rect x="593.15" y="769.80" width="13.5" height="2.9999999999999996" rx="1.50" fill="#000" opacity="1" filter="url(#f0)"/>
<ellipse cx="558.2" cy="761.9" rx="2.3" ry="1.5" fill="#4f86d8" opacity="0.8" filter="url(#f1)"/>
<ellipse cx="558.2" cy="773.3" rx="2.3" ry="1.5" fill="#4f86d8" opacity="0.8" filter="url(#f1)"/>
<ellipse cx="615.6" cy="762.3" rx="2.0" ry="1.5" fill="#4f86d8" opacity="0.7" filter="url(#f1)"/>
<ellipse cx="615.6" cy="773.3" rx="2.0" ry="1.5" fill="#4f86d8" opacity="0.7" filter="url(#f1)"/>
</g>
</svg>
</body></html>
